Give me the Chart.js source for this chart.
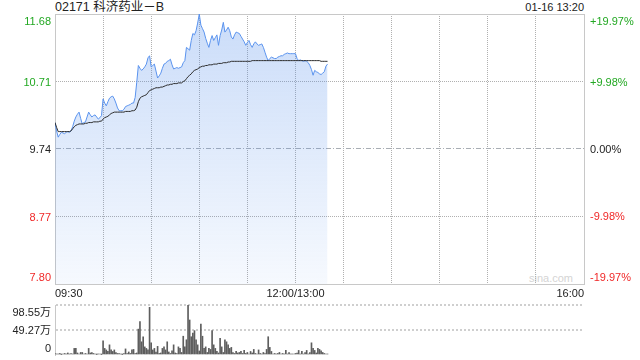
<!DOCTYPE html>
<html lang="zh">
<head>
<meta charset="UTF-8">
<title>02171 科济药业－B</title>
<script src="https://cdn.jsdelivr.net/npm/chart.js"></script>
<style>
  body { margin: 0; background: #fff; }
  #wrap { position: relative; width: 640px; height: 360px; overflow: hidden; font-family: "Liberation Sans", Arial, "Noto Sans CJK SC", sans-serif; }
  #wrap canvas { position: absolute; left: 0; }
  .txt { position: absolute; white-space: nowrap; line-height: 1; }
</style>
</head>
<body>
<div id="wrap">
  <div class="txt" style="left:55px; top:1px; font-size:12.5px; color:#222;">02171 科济药业－B</div>
  <div class="txt" style="right:56px; top:2px; font-size:11px; color:#222;">01-16 13:20</div>
  <div class="txt" style="right:67px; top:273px; font-size:11px; color:#d4d4d4;">sina.com</div>
  <canvas id="price" width="640" height="300" style="top:0"></canvas>
  <canvas id="vol" width="640" height="60" style="top:300px"></canvas>
</div>
<script>
// minute index 0 = 09:30, 150 = 12:00/13:00, 330 = 16:00
const tickMinutes = [0, 150, 330];
const timeLabels = ['09:30', '12:00/13:00', '16:00'];

const prevClose = 9.74;
const priceTicks = [7.80, 8.77, 9.74, 10.71, 11.68];
const pctTicks = [-19.97, -9.98, 0, 9.98, 19.97];
const pctLabels = ['-19.97%', '-9.98%', '0.00%', '+9.98%', '+19.97%'];
const volTicks = [0, 49.27, 98.55];
const volLabels = ['0', '49.27万', '98.55万'];

// 分时价格
const price = [
  10.12,10.00,9.91,9.95,9.98,9.97,9.96,9.98,9.99,9.98,
  10.00,10.06,10.14,10.20,10.24,10.27,10.18,10.10,10.12,10.13,
  10.20,10.27,10.23,10.20,10.22,10.23,10.20,10.17,10.19,10.22,
  10.46,10.40,10.36,10.42,10.47,10.49,10.50,10.46,10.40,10.33,
  10.29,10.29,10.29,10.31,10.35,10.36,10.37,10.38,10.40,10.40,
  10.48,10.70,10.94,10.90,10.87,10.89,10.92,10.96,11.05,11.08,
  10.92,10.94,10.96,10.86,10.76,10.79,10.83,10.90,10.96,10.97,
  11.00,11.01,11.03,10.95,10.89,10.90,10.91,10.90,10.91,10.92,
  10.98,11.01,11.20,11.18,11.16,11.30,11.40,11.38,11.44,11.55,
  11.68,11.52,11.47,11.42,11.33,11.26,11.20,11.30,11.37,11.30,
  11.34,11.38,11.23,11.37,11.45,11.56,11.42,11.45,11.49,11.44,
  11.35,11.32,11.38,11.42,11.41,11.40,11.36,11.32,11.28,11.23,
  11.27,11.30,11.24,11.20,11.25,11.28,11.25,11.23,11.24,11.25,
  11.20,11.13,11.06,11.01,11.04,11.06,11.05,11.04,11.04,11.06,
  11.07,11.08,11.08,11.10,11.11,11.12,11.11,11.11,11.11,11.11,
  11.11,11.04,11.01,11.02,11.01,11.00,11.01,11.00,10.98,10.94,
  10.88,10.80,10.87,10.85,10.84,10.82,10.81,10.83,10.85,10.93,
  10.96
];

// 均价
const avgPrice = [
  10.12,10.05,9.99,9.99,9.99,9.99,9.99,9.99,9.99,9.99,
  10.00,10.03,10.06,10.08,10.09,10.10,10.10,10.10,10.10,10.11,
  10.11,10.12,10.12,10.12,10.13,10.13,10.13,10.13,10.14,10.14,
  10.17,10.19,10.20,10.21,10.23,10.25,10.26,10.27,10.27,10.27,
  10.27,10.27,10.27,10.27,10.28,10.28,10.28,10.28,10.29,10.29,
  10.30,10.34,10.42,10.47,10.49,10.50,10.51,10.52,10.55,10.58,
  10.59,10.60,10.61,10.62,10.62,10.62,10.63,10.63,10.64,10.65,
  10.66,10.66,10.67,10.67,10.68,10.68,10.68,10.69,10.69,10.69,
  10.71,10.72,10.75,10.78,10.80,10.82,10.85,10.87,10.88,10.89,
  10.91,10.92,10.93,10.93,10.94,10.94,10.95,10.95,10.95,10.96,
  10.96,10.96,10.97,10.97,10.97,10.98,10.98,10.98,10.99,10.99,
  11.00,11.00,11.00,11.00,11.00,11.00,11.00,11.00,11.00,11.00,
  11.00,11.00,11.00,11.01,11.01,11.01,11.01,11.01,11.01,11.01,
  11.01,11.01,11.01,11.01,11.01,11.01,11.01,11.01,11.01,11.01,
  11.01,11.01,11.01,11.01,11.01,11.01,11.01,11.01,11.01,11.01,
  11.01,11.01,11.01,11.01,11.01,11.01,11.01,11.01,11.01,11.01,
  11.01,11.01,11.01,11.01,11.01,11.01,11.00,11.00,11.00,11.00,
  11.00
];

// 成交量（万股）
const volume = [
  3,2,2,3,1,2,3,2,4,2,
  3,2,13,13,4,2,5,5,2,3,
  2,13,4,5,3,2,1,2,2,1,
  28,13,10,7,20,10,7,10,5,3,
  3,2,1,3,12,3,6,3,10,11,
  3,4,51,66,26,36,16,13,10,94,
  24,10,13,6,17,3,4,13,16,10,
  26,6,3,8,20,4,3,16,13,5,
  37,16,30,98.55,69,36,43,48,30,20,
  8,61,37,13,16,5,13,11,48,20,
  13,7,4,33,16,5,30,26,20,13,
  15,5,3,7,4,5,7,3,9,3,
  5,2,7,4,11,3,2,10,3,2,
  5,3,11,36,15,7,2,3,2,3,
  5,2,3,2,9,2,5,2,2,2,
  3,4,9,2,7,2,5,9,2,5,
  24,13,9,4,13,11,8,5,3,2,
  2
];

const FONT = '"Liberation Sans", Arial, "Noto Sans CJK SC", sans-serif';
const GREEN = '#22a822';
const RED = '#f02828';
const FRAME = '#c8c8c8';
const DOT = '#b0b0b0';

function tickColor(v) {
  if (v > 0.0001) return GREEN;
  if (v < -0.0001) return RED;
  return '#222';
}

// y 轴文字：最上方的贴着顶部，最下方的贴着底部
const sideLabels = {
  id: 'sideLabels',
  afterDraw(chart, args, opts) {
    const ctx = chart.ctx;
    ctx.save();
    ctx.font = '11px ' + FONT;
    opts.axes.forEach(a => {
      const scale = chart.scales[a.id];
      const n = a.values.length;
      a.values.forEach((v, i) => {
        const y = scale.getPixelForValue(v);
        ctx.fillStyle = a.colors[i];
        ctx.textAlign = a.align;
        ctx.textBaseline = i === 0 ? 'bottom' : (i === n - 1 ? 'top' : 'middle');
        ctx.fillText(a.labels[i], a.x, i === 0 ? y - 1 : (i === n - 1 ? y + 2 : y + 1));
      });
    });
    ctx.restore();
  }
};

const mins = price.map((_, i) => i);

new Chart(document.getElementById('price'), {
  type: 'line',
  data: {
    datasets: [
      {
        label: '均价',
        data: mins.map(i => ({ x: i, y: avgPrice[i] })),
        borderColor: '#2b2b2b',
        borderWidth: 1,
        pointRadius: 0,
        fill: false,
        order: 0
      },
      {
        label: '价格',
        data: mins.map(i => ({ x: i, y: price[i] })),
        borderColor: '#5a93ee',
        borderWidth: 1,
        pointRadius: 0,
        fill: 'start',
        backgroundColor: c => {
          const area = c.chart.chartArea;
          if (!area) return 'rgba(80,140,235,0.2)';
          const g = c.chart.ctx.createLinearGradient(0, area.top, 0, area.bottom);
          g.addColorStop(0, 'rgba(80,140,235,0.30)');
          g.addColorStop(1, 'rgba(80,140,235,0.05)');
          return g;
        },
        order: 1
      }
    ]
  },
  options: {
    responsive: false,
    animation: false,
    events: [],
    layout: { padding: { top: 14, bottom: 0, left: 0, right: 0 } },
    plugins: {
      legend: { display: false },
      tooltip: { enabled: false },
      sideLabels: {
        axes: [
          { id: 'y', values: priceTicks, labels: priceTicks.map(v => v.toFixed(2)),
            colors: priceTicks.map(v => tickColor(v - prevClose)), align: 'right', x: 51 },
          { id: 'y2', values: pctTicks, labels: pctLabels,
            colors: pctTicks.map(tickColor), align: 'left', x: 590 }
        ]
      }
    },
    scales: {
      x: {
        type: 'linear',
        min: 0,
        max: 330,
        offset: false,
        afterBuildTicks: s => {
          const t = [];
          for (let m = 0; m <= 330; m += 30) t.push({ value: m });
          s.ticks = t;
        },
        afterFit: s => { s.height = 16; },
        ticks: {
          autoSkip: false,
          maxRotation: 0,
          align: 'inner',
          padding: 3,
          color: '#222',
          font: { family: FONT, size: 11 },
          callback: v => {
            const k = tickMinutes.indexOf(v);
            return k >= 0 ? timeLabels[k] : '';
          }
        },
        grid: {
          drawTicks: false,
          color: c => (c.tick && (c.tick.value === 0 || c.tick.value === 330)) ? 'rgba(0,0,0,0)' : DOT
        },
        border: { display: true, color: FRAME, dash: [1, 1] }
      },
      y: {
        position: 'left',
        min: priceTicks[0],
        max: priceTicks[priceTicks.length - 1],
        afterBuildTicks: s => { s.ticks = priceTicks.map(v => ({ value: v })); },
        afterFit: s => { s.width = 55; },
        ticks: { display: false },
        grid: {
          drawTicks: false,
          color: c => {
            const v = c.tick ? c.tick.value : 0;
            if (Math.abs(v - prevClose) < 0.001) return '#a9aeb4';
            if (Math.abs(v - priceTicks[0]) < 0.001) return 'rgba(0,0,0,0)';
            if (Math.abs(v - priceTicks[priceTicks.length - 1]) < 0.001) return FRAME;
            return DOT;
          }
        },
        border: {
          display: true,
          color: FRAME,
          dash: c => {
            const v = c.tick ? c.tick.value : 0;
            if (Math.abs(v - prevClose) < 0.001) return [5, 2, 1, 2];
            if (Math.abs(v - priceTicks[priceTicks.length - 1]) < 0.001) return [];
            return [1, 1];
          }
        }
      },
      y2: {
        position: 'right',
        min: pctTicks[0],
        max: pctTicks[pctTicks.length - 1],
        afterBuildTicks: s => { s.ticks = pctTicks.map(v => ({ value: v })); },
        afterFit: s => { s.width = 56; },
        ticks: { display: false },
        grid: { display: false },
        border: { display: true, color: FRAME }
      }
    }
  },
  plugins: [sideLabels]
});

new Chart(document.getElementById('vol'), {
  type: 'bar',
  data: {
    datasets: [{
      label: '成交量',
      data: mins.map(i => ({ x: i, y: volume[i] })),
      backgroundColor: '#5e5e5e',
      barThickness: 1
    }]
  },
  options: {
    responsive: false,
    animation: false,
    events: [],
    layout: { padding: { top: 5, bottom: 5, left: 0, right: 56 } },
    plugins: {
      legend: { display: false },
      tooltip: { enabled: false },
      sideLabels: {
        axes: [
          { id: 'y', values: volTicks, labels: volLabels,
            colors: volTicks.map(() => '#222'), align: 'right', x: 51 }
        ]
      }
    },
    scales: {
      x: {
        type: 'linear',
        min: 0,
        max: 330,
        offset: false,
        display: true,
        ticks: { display: false },
        grid: { display: false, drawTicks: false },
        border: { display: false },
        afterFit: s => { s.height = 0; }
      },
      y: {
        min: volTicks[0],
        max: volTicks[volTicks.length - 1],
        afterBuildTicks: s => { s.ticks = volTicks.map(v => ({ value: v })); },
        afterFit: s => { s.width = 55; },
        ticks: { display: false },
        grid: {
          drawTicks: false,
          lineWidth: 2,
          color: c => (c.tick && c.tick.value === 0) ? 'rgba(0,0,0,0)' : '#cfcfcf'
        },
        border: { display: true, color: FRAME, dash: [2, 2] }
      }
    }
  },
  plugins: [sideLabels]
});
</script>
</body>
</html>
